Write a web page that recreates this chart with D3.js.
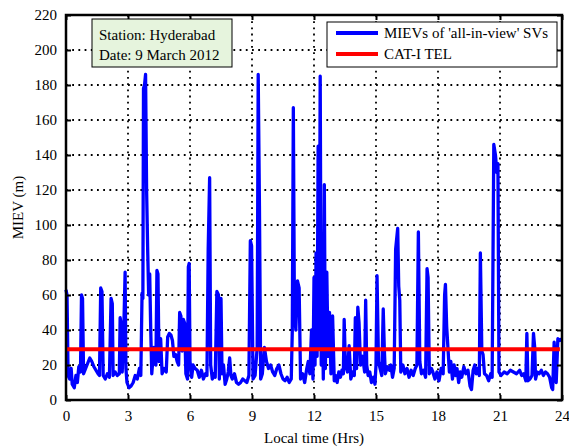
<!DOCTYPE html>
<html>
<head>
<meta charset="utf-8">
<script src="https://cdn.jsdelivr.net/npm/d3@7"></script>
<style>
  body { margin: 0; background: #fff; }
  text { font-family: "Liberation Serif", "Times New Roman", serif; }
</style>
</head>
<body>
<div id="chart"></div>
<script>
// local time (hrs) and MIEV (m)
var hours = [
  0.00,0.05,0.10,0.18,0.25,0.30,0.40,0.48,0.55,0.62,0.70,0.75,0.80,0.85,0.95,1.05,1.15,1.25,1.35,1.45,
  1.55,1.62,1.68,1.74,1.80,1.90,2.00,2.10,2.18,2.24,2.28,2.38,2.48,2.58,2.62,2.66,2.72,2.80,2.86,2.90,
  2.95,3.05,3.15,3.25,3.35,3.45,3.55,3.62,3.68,3.72,3.75,3.80,3.85,3.90,3.95,4.00,4.05,4.10,4.15,4.25,
  4.35,4.40,4.45,4.50,4.58,4.65,4.75,4.85,4.92,5.00,5.08,5.15,5.22,5.30,5.38,5.45,5.50,5.56,5.62,5.68,
  5.74,5.80,5.88,5.92,5.96,6.00,6.08,6.15,6.25,6.35,6.45,6.55,6.65,6.75,6.82,6.88,6.95,7.00,7.08,7.15,
  7.22,7.30,7.38,7.42,7.50,7.55,7.62,7.70,7.78,7.85,7.92,7.98,8.05,8.15,8.25,8.35,8.45,8.55,8.65,8.75,
  8.85,8.92,8.98,9.05,9.15,9.25,9.30,9.36,9.42,9.50,9.60,9.70,9.80,9.90,10.00,10.10,10.20,10.30,10.40,10.50,
  10.60,10.70,10.80,10.90,10.95,11.00,11.05,11.12,11.20,11.28,11.35,11.45,11.55,11.65,11.72,11.80,11.88,11.95,12.00,12.05,
  12.10,12.15,12.20,12.25,12.30,12.35,12.40,12.45,12.50,12.55,12.62,12.68,12.75,12.82,12.90,12.98,13.05,13.12,13.20,13.28,
  13.35,13.42,13.46,13.52,13.62,13.70,13.78,13.88,13.95,14.00,14.06,14.12,14.18,14.25,14.35,14.45,14.50,14.55,14.62,14.70,
  14.78,14.88,14.95,15.00,15.05,15.12,15.20,15.28,15.35,15.40,15.45,15.55,15.65,15.72,15.80,15.88,15.95,16.05,16.10,16.15,
  16.20,16.30,16.40,16.50,16.60,16.70,16.80,16.90,16.98,17.05,17.12,17.20,17.30,17.40,17.47,17.52,17.58,17.68,17.75,17.85,
  17.95,18.05,18.15,18.25,18.32,18.36,18.42,18.48,18.55,18.62,18.70,18.78,18.85,18.92,19.00,19.08,19.15,19.25,19.35,19.45,
  19.55,19.62,19.70,19.78,19.85,19.92,20.00,20.05,20.12,20.18,20.25,20.35,20.45,20.55,20.62,20.70,20.78,20.85,20.90,20.95,
  21.05,21.20,21.35,21.50,21.65,21.80,21.95,22.05,22.15,22.25,22.30,22.35,22.45,22.55,22.62,22.68,22.72,22.80,22.90,23.00,
  23.10,23.20,23.30,23.40,23.50,23.55,23.62,23.72,23.80,23.90,24.00
];
var miev = [
  63,60,14,12,18,9,7,14,10,19,16,60,58,15,18,21,24,22,19,17,
  15,14,64,62,14,12,15,13,58,55,14,16,14,15,47,44,16,42,73,18,
  10,7,8,10,14,12,18,14,61,58,178,180,186,120,87,60,72,40,15,30,
  20,74,72,22,35,15,18,16,36,38,37,34,25,26,22,20,50,48,28,46,
  44,15,12,76,78,22,13,20,18,17,13,17,12,15,14,86,127,20,12,15,
  13,62,60,12,58,15,20,9,12,16,24,14,12,15,10,9,10,12,11,10,
  14,91,88,12,14,30,186,111,12,15,30,22,18,20,16,14,18,20,15,12,
  11,13,10,12,40,167,55,40,68,64,12,15,10,18,22,15,40,12,70,20,
  84,25,145,30,185,20,60,12,123,18,73,25,50,15,48,11,14,10,16,13,
  17,15,46,20,16,31,12,16,14,47,18,53,44,20,25,16,57,20,14,16,
  10,13,9,20,71,22,18,14,52,30,15,19,17,20,13,18,86,98,65,57,
  16,20,15,18,13,17,14,18,20,96,22,15,17,13,75,70,15,18,16,12,
  16,11,18,15,60,66,42,30,16,22,12,20,14,18,10,16,13,19,15,17,
  8,6,17,20,15,18,14,84,28,26,15,14,11,15,13,146,140,130,135,16,
  14,16,15,17,16,15,17,14,15,11,38,11,12,14,38,30,12,16,15,17,
  14,16,15,13,7,6,33,10,35,34,35
];
var telValue = 29;
var telSpan = [0, 23.9];

var xTicks = [0, 3, 6, 9, 12, 15, 18, 21, 24];
var yTicks = [0, 20, 40, 60, 80, 100, 120, 140, 160, 180, 200, 220];
var legendLabels = ["MIEVs of 'all-in-view' SVs", "CAT-I TEL"];
var noteLines = ["Station: Hyderabad", "Date: 9 March 2012"];

var W = 569, H = 447;
var m = {left: 66, right: 7, top: 15, bottom: 47};
var iw = W - m.left - m.right, ih = H - m.top - m.bottom;

var svg = d3.select("#chart").append("svg")
  .attr("width", W)
  .attr("height", H);

var x = d3.scaleLinear().domain([0, 24]).range([0, iw]);
var y = d3.scaleLinear().domain([0, 220]).range([ih, 0]);

var g = svg.append("g").attr("transform", "translate(" + m.left + "," + m.top + ")");

// dotted grid
g.selectAll("line.gx").data(xTicks.slice(1, -1)).enter().append("line")
  .attr("x1", function(d){ return x(d); }).attr("x2", function(d){ return x(d); })
  .attr("y1", 0).attr("y2", ih)
  .attr("stroke", "#000").attr("stroke-width", 1.8).attr("stroke-dasharray", "1.8,4.4");
g.selectAll("line.gy").data(yTicks.slice(1, -1)).enter().append("line")
  .attr("y1", function(d){ return y(d); }).attr("y2", function(d){ return y(d); })
  .attr("x1", 0).attr("x2", iw)
  .attr("stroke", "#000").attr("stroke-width", 1.8).attr("stroke-dasharray", "1.8,4.4");

// series
var pts = hours.map(function(h, i){ return [h, miev[i]]; });
var line = d3.line().x(function(d){ return x(d[0]); }).y(function(d){ return y(d[1]); });
g.append("path").datum(pts)
  .attr("d", line)
  .attr("fill", "none")
  .attr("stroke", "#0000ff")
  .attr("stroke-width", 3.3)
  .attr("stroke-linejoin", "round");

g.append("line")
  .attr("x1", x(telSpan[0])).attr("x2", x(telSpan[1]))
  .attr("y1", y(telValue)).attr("y2", y(telValue))
  .attr("stroke", "#ff0000").attr("stroke-width", 4);

// axes with inward ticks on all sides
var fs = "15px";
var xb = g.append("g").attr("transform", "translate(0," + ih + ")")
  .call(d3.axisBottom(x).tickValues(xTicks).tickSizeInner(-5).tickSizeOuter(0).tickPadding(10));
var xt = g.append("g")
  .call(d3.axisTop(x).tickValues(xTicks).tickSizeInner(-5).tickSizeOuter(0).tickFormat(""));
var yl = g.append("g")
  .call(d3.axisLeft(y).tickValues(yTicks).tickSizeInner(-5).tickSizeOuter(0).tickPadding(9));
var yr = g.append("g").attr("transform", "translate(" + iw + ",0)")
  .call(d3.axisRight(y).tickValues(yTicks).tickSizeInner(-5).tickSizeOuter(0).tickFormat(""));
[xb, xt, yl, yr].forEach(function(a){
  a.select(".domain").remove();
  a.selectAll(".tick line").attr("stroke", "#000").attr("stroke-width", 2);
  a.selectAll("text").attr("font-family", "Liberation Serif").attr("font-size", fs).attr("fill", "#000");
});

g.append("rect").attr("width", iw).attr("height", ih)
  .attr("fill", "none").attr("stroke", "#000").attr("stroke-width", 2.5);

// axis titles
svg.append("text").attr("x", m.left + iw / 2).attr("y", 443)
  .attr("text-anchor", "middle").attr("font-size", fs).text("Local time (Hrs)");
svg.append("text").attr("transform", "translate(23," + (m.top + ih / 2) + ") rotate(-90)")
  .attr("text-anchor", "middle").attr("font-size", fs).text("MIEV (m)");

// station note
svg.append("rect").attr("x", 92).attr("y", 19).attr("width", 140).attr("height", 48)
  .attr("fill", "#e6f4dd").attr("stroke", "#000").attr("stroke-width", 1);
svg.selectAll("text.note").data(noteLines).enter().append("text")
  .attr("x", 99).attr("y", function(d, i){ return 40 + i * 20; })
  .attr("font-size", "15px").text(function(d){ return d; });

// legend
var lg = svg.append("g");
lg.append("rect").attr("x", 327).attr("y", 22).attr("width", 230).attr("height", 45)
  .attr("fill", "#fff").attr("stroke", "#000").attr("stroke-width", 1);
var legColors = ["#0000ff", "#ff0000"];
legendLabels.forEach(function(t, i){
  var yy = 33 + i * 21;
  lg.append("line").attr("x1", 336).attr("x2", 378).attr("y1", yy).attr("y2", yy)
    .attr("stroke", legColors[i]).attr("stroke-width", 4);
  lg.append("text").attr("x", 384).attr("y", yy + 5).attr("font-size", "15px").text(t);
});
</script>
</body>
</html>
